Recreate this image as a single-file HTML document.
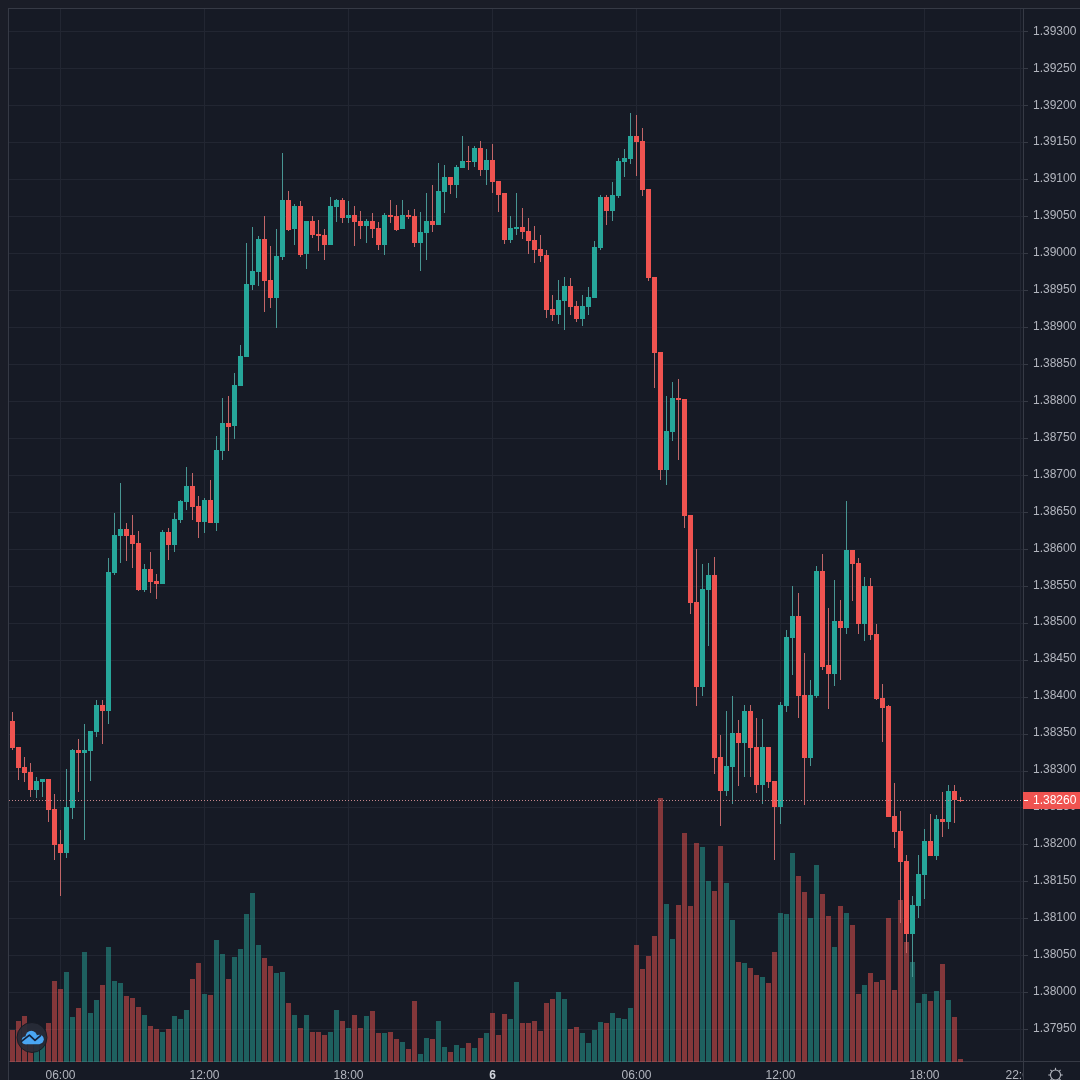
<!DOCTYPE html>
<html><head><meta charset="utf-8"><style>
html,body{margin:0;padding:0;background:#1a1d27;width:1080px;height:1080px;overflow:hidden}
svg{display:block;will-change:transform}
</style></head><body>
<svg width="1080" height="1080" viewBox="0 0 1080 1080" shape-rendering="crispEdges"><defs><clipPath id="pane"><rect x="9" y="9" width="1014" height="1053"/></clipPath><clipPath id="tclip"><rect x="0" y="0" width="1023" height="1080"/></clipPath></defs><rect x="0" y="0" width="1080" height="1080" fill="#1a1d27"/><rect x="8" y="8" width="1072" height="1072" fill="#161a25"/><g clip-path="url(#pane)"><rect x="8" y="31" width="1015" height="1" fill="#222632"/><rect x="8" y="68" width="1015" height="1" fill="#222632"/><rect x="8" y="105" width="1015" height="1" fill="#222632"/><rect x="8" y="142" width="1015" height="1" fill="#222632"/><rect x="8" y="179" width="1015" height="1" fill="#222632"/><rect x="8" y="216" width="1015" height="1" fill="#222632"/><rect x="8" y="253" width="1015" height="1" fill="#222632"/><rect x="8" y="290" width="1015" height="1" fill="#222632"/><rect x="8" y="327" width="1015" height="1" fill="#222632"/><rect x="8" y="364" width="1015" height="1" fill="#222632"/><rect x="8" y="401" width="1015" height="1" fill="#222632"/><rect x="8" y="438" width="1015" height="1" fill="#222632"/><rect x="8" y="475" width="1015" height="1" fill="#222632"/><rect x="8" y="512" width="1015" height="1" fill="#222632"/><rect x="8" y="549" width="1015" height="1" fill="#222632"/><rect x="8" y="586" width="1015" height="1" fill="#222632"/><rect x="8" y="623" width="1015" height="1" fill="#222632"/><rect x="8" y="660" width="1015" height="1" fill="#222632"/><rect x="8" y="697" width="1015" height="1" fill="#222632"/><rect x="8" y="734" width="1015" height="1" fill="#222632"/><rect x="8" y="771" width="1015" height="1" fill="#222632"/><rect x="8" y="807" width="1015" height="1" fill="#222632"/><rect x="8" y="844" width="1015" height="1" fill="#222632"/><rect x="8" y="881" width="1015" height="1" fill="#222632"/><rect x="8" y="918" width="1015" height="1" fill="#222632"/><rect x="8" y="955" width="1015" height="1" fill="#222632"/><rect x="8" y="992" width="1015" height="1" fill="#222632"/><rect x="8" y="1029" width="1015" height="1" fill="#222632"/><rect x="60" y="8" width="1" height="1053" fill="#222632"/><rect x="204" y="8" width="1" height="1053" fill="#222632"/><rect x="348" y="8" width="1" height="1053" fill="#222632"/><rect x="492" y="8" width="1" height="1053" fill="#222632"/><rect x="636" y="8" width="1" height="1053" fill="#222632"/><rect x="780" y="8" width="1" height="1053" fill="#222632"/><rect x="924" y="8" width="1" height="1053" fill="#222632"/><rect x="1020" y="8" width="1" height="1053" fill="#222632"/></g><rect x="8" y="8" width="1072" height="1" fill="#363a45"/><rect x="8" y="8" width="1" height="1072" fill="#363a45"/><rect x="1023" y="8" width="1" height="1072" fill="#363a45"/><rect x="8" y="1061" width="1072" height="1" fill="#363a45"/><g clip-path="url(#pane)"><rect x="10.0" y="1029.7" width="5" height="32.3" fill="rgba(239,83,80,0.5)"/><rect x="16.0" y="1020.6" width="5" height="41.4" fill="rgba(239,83,80,0.5)"/><rect x="22.0" y="1016.0" width="5" height="46.0" fill="rgba(239,83,80,0.5)"/><rect x="28.0" y="1040.0" width="5" height="22.0" fill="rgba(239,83,80,0.5)"/><rect x="34.0" y="1045.0" width="5" height="17.0" fill="rgba(38,166,154,0.5)"/><rect x="40.0" y="1045.0" width="5" height="17.0" fill="rgba(38,166,154,0.5)"/><rect x="46.0" y="1022.8" width="5" height="39.2" fill="rgba(239,83,80,0.5)"/><rect x="52.0" y="980.6" width="5" height="81.4" fill="rgba(239,83,80,0.5)"/><rect x="58.0" y="988.7" width="5" height="73.3" fill="rgba(239,83,80,0.5)"/><rect x="64.0" y="972.0" width="5" height="90.0" fill="rgba(38,166,154,0.5)"/><rect x="70.0" y="1016.9" width="5" height="45.1" fill="rgba(38,166,154,0.5)"/><rect x="76.0" y="1007.8" width="5" height="54.2" fill="rgba(239,83,80,0.5)"/><rect x="82.0" y="951.9" width="5" height="110.1" fill="rgba(38,166,154,0.5)"/><rect x="88.0" y="1012.9" width="5" height="49.1" fill="rgba(38,166,154,0.5)"/><rect x="94.0" y="999.8" width="5" height="62.2" fill="rgba(38,166,154,0.5)"/><rect x="100.0" y="984.5" width="5" height="77.5" fill="rgba(239,83,80,0.5)"/><rect x="106.0" y="947.0" width="5" height="115.0" fill="rgba(38,166,154,0.5)"/><rect x="112.0" y="980.9" width="5" height="81.1" fill="rgba(38,166,154,0.5)"/><rect x="118.0" y="982.8" width="5" height="79.2" fill="rgba(38,166,154,0.5)"/><rect x="124.0" y="995.9" width="5" height="66.1" fill="rgba(239,83,80,0.5)"/><rect x="130.0" y="997.6" width="5" height="64.4" fill="rgba(239,83,80,0.5)"/><rect x="136.0" y="1007.0" width="5" height="55.0" fill="rgba(239,83,80,0.5)"/><rect x="142.0" y="1015.0" width="5" height="47.0" fill="rgba(38,166,154,0.5)"/><rect x="148.0" y="1026.0" width="5" height="36.0" fill="rgba(239,83,80,0.5)"/><rect x="154.0" y="1028.8" width="5" height="33.2" fill="rgba(239,83,80,0.5)"/><rect x="160.0" y="1031.7" width="5" height="30.3" fill="rgba(38,166,154,0.5)"/><rect x="166.0" y="1028.6" width="5" height="33.4" fill="rgba(239,83,80,0.5)"/><rect x="172.0" y="1016.0" width="5" height="46.0" fill="rgba(38,166,154,0.5)"/><rect x="178.0" y="1018.9" width="5" height="43.1" fill="rgba(38,166,154,0.5)"/><rect x="184.0" y="1009.9" width="5" height="52.1" fill="rgba(38,166,154,0.5)"/><rect x="190.0" y="978.9" width="5" height="83.1" fill="rgba(239,83,80,0.5)"/><rect x="196.0" y="962.7" width="5" height="99.3" fill="rgba(239,83,80,0.5)"/><rect x="202.0" y="994.2" width="5" height="67.8" fill="rgba(38,166,154,0.5)"/><rect x="208.0" y="994.7" width="5" height="67.3" fill="rgba(239,83,80,0.5)"/><rect x="214.0" y="939.7" width="5" height="122.3" fill="rgba(38,166,154,0.5)"/><rect x="220.0" y="953.8" width="5" height="108.2" fill="rgba(38,166,154,0.5)"/><rect x="226.0" y="978.9" width="5" height="83.1" fill="rgba(239,83,80,0.5)"/><rect x="232.0" y="956.7" width="5" height="105.3" fill="rgba(38,166,154,0.5)"/><rect x="238.0" y="949.0" width="5" height="113.0" fill="rgba(38,166,154,0.5)"/><rect x="244.0" y="913.7" width="5" height="148.3" fill="rgba(38,166,154,0.5)"/><rect x="250.0" y="892.8" width="5" height="169.2" fill="rgba(38,166,154,0.5)"/><rect x="256.0" y="944.8" width="5" height="117.2" fill="rgba(38,166,154,0.5)"/><rect x="262.0" y="958.4" width="5" height="103.6" fill="rgba(239,83,80,0.5)"/><rect x="268.0" y="966.1" width="5" height="95.9" fill="rgba(239,83,80,0.5)"/><rect x="274.0" y="972.6" width="5" height="89.4" fill="rgba(38,166,154,0.5)"/><rect x="280.0" y="972.0" width="5" height="90.0" fill="rgba(38,166,154,0.5)"/><rect x="286.0" y="1002.7" width="5" height="59.3" fill="rgba(239,83,80,0.5)"/><rect x="292.0" y="1015.2" width="5" height="46.8" fill="rgba(38,166,154,0.5)"/><rect x="298.0" y="1027.9" width="5" height="34.1" fill="rgba(239,83,80,0.5)"/><rect x="304.0" y="1015.2" width="5" height="46.8" fill="rgba(38,166,154,0.5)"/><rect x="310.0" y="1031.7" width="5" height="30.3" fill="rgba(239,83,80,0.5)"/><rect x="316.0" y="1031.7" width="5" height="30.3" fill="rgba(239,83,80,0.5)"/><rect x="322.0" y="1034.8" width="5" height="27.2" fill="rgba(239,83,80,0.5)"/><rect x="328.0" y="1031.7" width="5" height="30.3" fill="rgba(38,166,154,0.5)"/><rect x="334.0" y="1009.9" width="5" height="52.1" fill="rgba(38,166,154,0.5)"/><rect x="340.0" y="1020.6" width="5" height="41.4" fill="rgba(239,83,80,0.5)"/><rect x="346.0" y="1027.9" width="5" height="34.1" fill="rgba(38,166,154,0.5)"/><rect x="352.0" y="1015.2" width="5" height="46.8" fill="rgba(239,83,80,0.5)"/><rect x="358.0" y="1027.9" width="5" height="34.1" fill="rgba(239,83,80,0.5)"/><rect x="364.0" y="1016.0" width="5" height="46.0" fill="rgba(38,166,154,0.5)"/><rect x="370.0" y="1010.9" width="5" height="51.1" fill="rgba(239,83,80,0.5)"/><rect x="376.0" y="1032.9" width="5" height="29.1" fill="rgba(239,83,80,0.5)"/><rect x="382.0" y="1032.9" width="5" height="29.1" fill="rgba(38,166,154,0.5)"/><rect x="388.0" y="1031.7" width="5" height="30.3" fill="rgba(239,83,80,0.5)"/><rect x="394.0" y="1038.9" width="5" height="23.1" fill="rgba(239,83,80,0.5)"/><rect x="400.0" y="1041.9" width="5" height="20.1" fill="rgba(38,166,154,0.5)"/><rect x="406.0" y="1048.7" width="5" height="13.3" fill="rgba(239,83,80,0.5)"/><rect x="412.0" y="1000.7" width="5" height="61.3" fill="rgba(239,83,80,0.5)"/><rect x="418.0" y="1053.9" width="5" height="8.1" fill="rgba(38,166,154,0.5)"/><rect x="424.0" y="1037.7" width="5" height="24.3" fill="rgba(38,166,154,0.5)"/><rect x="430.0" y="1038.9" width="5" height="23.1" fill="rgba(239,83,80,0.5)"/><rect x="436.0" y="1020.6" width="5" height="41.4" fill="rgba(38,166,154,0.5)"/><rect x="442.0" y="1047.0" width="5" height="15.0" fill="rgba(38,166,154,0.5)"/><rect x="448.0" y="1051.8" width="5" height="10.2" fill="rgba(239,83,80,0.5)"/><rect x="454.0" y="1045.0" width="5" height="17.0" fill="rgba(38,166,154,0.5)"/><rect x="460.0" y="1047.9" width="5" height="14.1" fill="rgba(38,166,154,0.5)"/><rect x="466.0" y="1043.1" width="5" height="18.9" fill="rgba(239,83,80,0.5)"/><rect x="472.0" y="1047.9" width="5" height="14.1" fill="rgba(38,166,154,0.5)"/><rect x="478.0" y="1037.7" width="5" height="24.3" fill="rgba(239,83,80,0.5)"/><rect x="484.0" y="1032.9" width="5" height="29.1" fill="rgba(38,166,154,0.5)"/><rect x="490.0" y="1012.6" width="5" height="49.4" fill="rgba(239,83,80,0.5)"/><rect x="496.0" y="1035.1" width="5" height="26.9" fill="rgba(239,83,80,0.5)"/><rect x="502.0" y="1014.1" width="5" height="47.9" fill="rgba(239,83,80,0.5)"/><rect x="508.0" y="1018.9" width="5" height="43.1" fill="rgba(38,166,154,0.5)"/><rect x="514.0" y="981.9" width="5" height="80.1" fill="rgba(38,166,154,0.5)"/><rect x="520.0" y="1023.2" width="5" height="38.8" fill="rgba(239,83,80,0.5)"/><rect x="526.0" y="1023.2" width="5" height="38.8" fill="rgba(239,83,80,0.5)"/><rect x="532.0" y="1021.0" width="5" height="41.0" fill="rgba(239,83,80,0.5)"/><rect x="538.0" y="1030.8" width="5" height="31.2" fill="rgba(239,83,80,0.5)"/><rect x="544.0" y="1002.7" width="5" height="59.3" fill="rgba(239,83,80,0.5)"/><rect x="550.0" y="999.0" width="5" height="63.0" fill="rgba(239,83,80,0.5)"/><rect x="556.0" y="992.2" width="5" height="69.8" fill="rgba(38,166,154,0.5)"/><rect x="562.0" y="999.0" width="5" height="63.0" fill="rgba(38,166,154,0.5)"/><rect x="568.0" y="1028.8" width="5" height="33.2" fill="rgba(239,83,80,0.5)"/><rect x="574.0" y="1026.6" width="5" height="35.4" fill="rgba(239,83,80,0.5)"/><rect x="580.0" y="1033.4" width="5" height="28.6" fill="rgba(38,166,154,0.5)"/><rect x="586.0" y="1042.8" width="5" height="19.2" fill="rgba(38,166,154,0.5)"/><rect x="592.0" y="1029.5" width="5" height="32.5" fill="rgba(38,166,154,0.5)"/><rect x="598.0" y="1021.8" width="5" height="40.2" fill="rgba(38,166,154,0.5)"/><rect x="604.0" y="1022.8" width="5" height="39.2" fill="rgba(239,83,80,0.5)"/><rect x="610.0" y="1012.7" width="5" height="49.3" fill="rgba(38,166,154,0.5)"/><rect x="616.0" y="1017.8" width="5" height="44.2" fill="rgba(38,166,154,0.5)"/><rect x="622.0" y="1018.8" width="5" height="43.2" fill="rgba(38,166,154,0.5)"/><rect x="628.0" y="1007.7" width="5" height="54.3" fill="rgba(38,166,154,0.5)"/><rect x="634.0" y="944.7" width="5" height="117.3" fill="rgba(239,83,80,0.5)"/><rect x="640.0" y="968.8" width="5" height="93.2" fill="rgba(239,83,80,0.5)"/><rect x="646.0" y="955.6" width="5" height="106.4" fill="rgba(239,83,80,0.5)"/><rect x="652.0" y="935.9" width="5" height="126.1" fill="rgba(239,83,80,0.5)"/><rect x="658.0" y="798.1" width="5" height="263.9" fill="rgba(239,83,80,0.5)"/><rect x="664.0" y="904.2" width="5" height="157.8" fill="rgba(38,166,154,0.5)"/><rect x="670.0" y="939.2" width="5" height="122.8" fill="rgba(38,166,154,0.5)"/><rect x="676.0" y="904.7" width="5" height="157.3" fill="rgba(239,83,80,0.5)"/><rect x="682.0" y="832.6" width="5" height="229.4" fill="rgba(239,83,80,0.5)"/><rect x="688.0" y="905.9" width="5" height="156.1" fill="rgba(239,83,80,0.5)"/><rect x="694.0" y="842.8" width="5" height="219.2" fill="rgba(239,83,80,0.5)"/><rect x="700.0" y="847.1" width="5" height="214.9" fill="rgba(38,166,154,0.5)"/><rect x="706.0" y="880.8" width="5" height="181.2" fill="rgba(38,166,154,0.5)"/><rect x="712.0" y="891.0" width="5" height="171.0" fill="rgba(239,83,80,0.5)"/><rect x="718.0" y="845.8" width="5" height="216.2" fill="rgba(239,83,80,0.5)"/><rect x="724.0" y="883.4" width="5" height="178.6" fill="rgba(38,166,154,0.5)"/><rect x="730.0" y="919.8" width="5" height="142.2" fill="rgba(38,166,154,0.5)"/><rect x="736.0" y="962.3" width="5" height="99.7" fill="rgba(239,83,80,0.5)"/><rect x="742.0" y="962.9" width="5" height="99.1" fill="rgba(38,166,154,0.5)"/><rect x="748.0" y="967.9" width="5" height="94.1" fill="rgba(239,83,80,0.5)"/><rect x="754.0" y="975.1" width="5" height="86.9" fill="rgba(239,83,80,0.5)"/><rect x="760.0" y="976.8" width="5" height="85.2" fill="rgba(38,166,154,0.5)"/><rect x="766.0" y="982.6" width="5" height="79.4" fill="rgba(239,83,80,0.5)"/><rect x="772.0" y="951.9" width="5" height="110.1" fill="rgba(239,83,80,0.5)"/><rect x="778.0" y="912.5" width="5" height="149.5" fill="rgba(38,166,154,0.5)"/><rect x="784.0" y="913.6" width="5" height="148.4" fill="rgba(38,166,154,0.5)"/><rect x="790.0" y="852.8" width="5" height="209.2" fill="rgba(38,166,154,0.5)"/><rect x="796.0" y="875.9" width="5" height="186.1" fill="rgba(239,83,80,0.5)"/><rect x="802.0" y="891.8" width="5" height="170.2" fill="rgba(239,83,80,0.5)"/><rect x="808.0" y="918.3" width="5" height="143.7" fill="rgba(38,166,154,0.5)"/><rect x="814.0" y="865.3" width="5" height="196.7" fill="rgba(38,166,154,0.5)"/><rect x="820.0" y="893.5" width="5" height="168.5" fill="rgba(239,83,80,0.5)"/><rect x="826.0" y="915.6" width="5" height="146.4" fill="rgba(239,83,80,0.5)"/><rect x="832.0" y="946.7" width="5" height="115.3" fill="rgba(38,166,154,0.5)"/><rect x="838.0" y="906.3" width="5" height="155.7" fill="rgba(239,83,80,0.5)"/><rect x="844.0" y="912.5" width="5" height="149.5" fill="rgba(38,166,154,0.5)"/><rect x="850.0" y="924.8" width="5" height="137.2" fill="rgba(239,83,80,0.5)"/><rect x="856.0" y="993.9" width="5" height="68.1" fill="rgba(239,83,80,0.5)"/><rect x="862.0" y="985.2" width="5" height="76.8" fill="rgba(38,166,154,0.5)"/><rect x="868.0" y="972.9" width="5" height="89.1" fill="rgba(239,83,80,0.5)"/><rect x="874.0" y="981.9" width="5" height="80.1" fill="rgba(239,83,80,0.5)"/><rect x="880.0" y="980.0" width="5" height="82.0" fill="rgba(239,83,80,0.5)"/><rect x="886.0" y="918.0" width="5" height="144.0" fill="rgba(239,83,80,0.5)"/><rect x="892.0" y="989.9" width="5" height="72.1" fill="rgba(239,83,80,0.5)"/><rect x="898.0" y="899.9" width="5" height="162.1" fill="rgba(239,83,80,0.5)"/><rect x="904.0" y="941.9" width="5" height="120.1" fill="rgba(239,83,80,0.5)"/><rect x="910.0" y="961.8" width="5" height="100.2" fill="rgba(38,166,154,0.5)"/><rect x="916.0" y="1003.1" width="5" height="58.9" fill="rgba(38,166,154,0.5)"/><rect x="922.0" y="993.9" width="5" height="68.1" fill="rgba(38,166,154,0.5)"/><rect x="928.0" y="1000.7" width="5" height="61.3" fill="rgba(239,83,80,0.5)"/><rect x="934.0" y="991.1" width="5" height="70.9" fill="rgba(38,166,154,0.5)"/><rect x="940.0" y="963.5" width="5" height="98.5" fill="rgba(239,83,80,0.5)"/><rect x="946.0" y="999.8" width="5" height="62.2" fill="rgba(38,166,154,0.5)"/><rect x="952.0" y="1016.7" width="5" height="45.3" fill="rgba(239,83,80,0.5)"/><rect x="958.0" y="1059.0" width="5" height="3.0" fill="rgba(239,83,80,0.5)"/></g><g clip-path="url(#pane)"><rect x="12.0" y="712.0" width="1" height="38.0" fill="#c26668"/><rect x="10.0" y="721.0" width="5" height="27.0" fill="#ef5350"/><rect x="18.0" y="747.0" width="1" height="32.6" fill="#c26668"/><rect x="16.0" y="747.0" width="5" height="21.0" fill="#ef5350"/><rect x="24.0" y="756.5" width="1" height="25.9" fill="#c26668"/><rect x="22.0" y="766.7" width="5" height="6.3" fill="#ef5350"/><rect x="30.0" y="763.0" width="1" height="34.0" fill="#c26668"/><rect x="28.0" y="772.0" width="5" height="18.0" fill="#ef5350"/><rect x="36.0" y="776.5" width="1" height="21.5" fill="#489693"/><rect x="34.0" y="780.5" width="5" height="9.5" fill="#26a69a"/><rect x="42.0" y="778.7" width="1" height="18.3" fill="#489693"/><rect x="40.0" y="778.7" width="5" height="3.3" fill="#26a69a"/><rect x="48.0" y="778.7" width="1" height="43.3" fill="#c26668"/><rect x="46.0" y="778.7" width="5" height="31.3" fill="#ef5350"/><rect x="54.0" y="794.4" width="1" height="65.6" fill="#c26668"/><rect x="52.0" y="809.0" width="5" height="36.0" fill="#ef5350"/><rect x="60.0" y="829.6" width="1" height="66.4" fill="#c26668"/><rect x="58.0" y="843.5" width="5" height="9.8" fill="#ef5350"/><rect x="66.0" y="769.4" width="1" height="88.6" fill="#489693"/><rect x="64.0" y="807.0" width="5" height="45.8" fill="#26a69a"/><rect x="72.0" y="748.5" width="1" height="70.9" fill="#489693"/><rect x="70.0" y="749.6" width="5" height="58.2" fill="#26a69a"/><rect x="78.0" y="738.9" width="1" height="52.8" fill="#c26668"/><rect x="76.0" y="749.6" width="5" height="3.4" fill="#ef5350"/><rect x="84.0" y="724.0" width="1" height="115.8" fill="#489693"/><rect x="82.0" y="749.6" width="5" height="3.4" fill="#26a69a"/><rect x="90.0" y="731.0" width="1" height="49.5" fill="#489693"/><rect x="88.0" y="731.0" width="5" height="20.0" fill="#26a69a"/><rect x="96.0" y="700.0" width="1" height="37.0" fill="#489693"/><rect x="94.0" y="704.6" width="5" height="27.2" fill="#26a69a"/><rect x="102.0" y="700.0" width="1" height="43.5" fill="#c26668"/><rect x="100.0" y="705.0" width="5" height="5.7" fill="#ef5350"/><rect x="108.0" y="558.0" width="1" height="166.0" fill="#489693"/><rect x="106.0" y="572.0" width="5" height="138.7" fill="#26a69a"/><rect x="114.0" y="512.5" width="1" height="62.5" fill="#489693"/><rect x="112.0" y="535.0" width="5" height="38.3" fill="#26a69a"/><rect x="120.0" y="483.3" width="1" height="80.0" fill="#489693"/><rect x="118.0" y="528.8" width="5" height="7.0" fill="#26a69a"/><rect x="126.0" y="522.5" width="1" height="38.3" fill="#c26668"/><rect x="124.0" y="528.8" width="5" height="7.0" fill="#ef5350"/><rect x="132.0" y="515.0" width="1" height="52.5" fill="#c26668"/><rect x="130.0" y="535.0" width="5" height="8.8" fill="#ef5350"/><rect x="138.0" y="531.2" width="1" height="60.1" fill="#c26668"/><rect x="136.0" y="542.8" width="5" height="47.2" fill="#ef5350"/><rect x="144.0" y="563.8" width="1" height="28.2" fill="#489693"/><rect x="142.0" y="568.8" width="5" height="21.2" fill="#26a69a"/><rect x="150.0" y="552.0" width="1" height="40.8" fill="#c26668"/><rect x="148.0" y="568.8" width="5" height="13.4" fill="#ef5350"/><rect x="156.0" y="573.7" width="1" height="25.1" fill="#c26668"/><rect x="154.0" y="580.5" width="5" height="3.3" fill="#ef5350"/><rect x="162.0" y="530.0" width="1" height="53.8" fill="#489693"/><rect x="160.0" y="531.7" width="5" height="52.1" fill="#26a69a"/><rect x="168.0" y="527.8" width="1" height="32.2" fill="#c26668"/><rect x="166.0" y="531.7" width="5" height="13.3" fill="#ef5350"/><rect x="174.0" y="512.8" width="1" height="38.9" fill="#489693"/><rect x="172.0" y="518.7" width="5" height="26.3" fill="#26a69a"/><rect x="180.0" y="499.7" width="1" height="23.1" fill="#489693"/><rect x="178.0" y="500.5" width="5" height="19.5" fill="#26a69a"/><rect x="186.0" y="466.7" width="1" height="43.3" fill="#489693"/><rect x="184.0" y="485.8" width="5" height="15.9" fill="#26a69a"/><rect x="192.0" y="472.5" width="1" height="47.5" fill="#c26668"/><rect x="190.0" y="485.8" width="5" height="21.4" fill="#ef5350"/><rect x="198.0" y="496.3" width="1" height="42.0" fill="#c26668"/><rect x="196.0" y="505.8" width="5" height="16.2" fill="#ef5350"/><rect x="204.0" y="497.5" width="1" height="35.3" fill="#489693"/><rect x="202.0" y="499.7" width="5" height="22.3" fill="#26a69a"/><rect x="210.0" y="480.0" width="1" height="42.8" fill="#c26668"/><rect x="208.0" y="499.7" width="5" height="23.1" fill="#ef5350"/><rect x="216.0" y="435.8" width="1" height="95.4" fill="#489693"/><rect x="214.0" y="450.0" width="5" height="72.8" fill="#26a69a"/><rect x="222.0" y="398.3" width="1" height="61.7" fill="#489693"/><rect x="220.0" y="422.5" width="5" height="28.5" fill="#26a69a"/><rect x="228.0" y="395.8" width="1" height="55.2" fill="#c26668"/><rect x="226.0" y="422.5" width="5" height="4.2" fill="#ef5350"/><rect x="234.0" y="373.3" width="1" height="65.9" fill="#489693"/><rect x="232.0" y="384.7" width="5" height="41.6" fill="#26a69a"/><rect x="240.0" y="345.0" width="1" height="40.8" fill="#489693"/><rect x="238.0" y="355.8" width="5" height="30.0" fill="#26a69a"/><rect x="246.0" y="243.3" width="1" height="113.7" fill="#489693"/><rect x="244.0" y="284.2" width="5" height="72.8" fill="#26a69a"/><rect x="252.0" y="226.7" width="1" height="63.3" fill="#489693"/><rect x="250.0" y="270.8" width="5" height="14.2" fill="#26a69a"/><rect x="258.0" y="236.3" width="1" height="49.5" fill="#489693"/><rect x="256.0" y="238.8" width="5" height="32.9" fill="#26a69a"/><rect x="264.0" y="216.2" width="1" height="95.5" fill="#c26668"/><rect x="262.0" y="238.8" width="5" height="42.0" fill="#ef5350"/><rect x="270.0" y="246.3" width="1" height="61.2" fill="#c26668"/><rect x="268.0" y="280.0" width="5" height="17.8" fill="#ef5350"/><rect x="276.0" y="229.2" width="1" height="98.8" fill="#489693"/><rect x="274.0" y="255.8" width="5" height="42.0" fill="#26a69a"/><rect x="282.0" y="152.5" width="1" height="107.2" fill="#489693"/><rect x="280.0" y="200.0" width="5" height="57.0" fill="#26a69a"/><rect x="288.0" y="190.8" width="1" height="40.0" fill="#c26668"/><rect x="286.0" y="200.0" width="5" height="29.5" fill="#ef5350"/><rect x="294.0" y="203.8" width="1" height="41.5" fill="#489693"/><rect x="292.0" y="205.5" width="5" height="23.3" fill="#26a69a"/><rect x="300.0" y="200.8" width="1" height="55.9" fill="#c26668"/><rect x="298.0" y="205.5" width="5" height="49.2" fill="#ef5350"/><rect x="306.0" y="220.8" width="1" height="47.9" fill="#489693"/><rect x="304.0" y="220.8" width="5" height="33.0" fill="#26a69a"/><rect x="312.0" y="215.8" width="1" height="22.5" fill="#c26668"/><rect x="310.0" y="220.8" width="5" height="14.2" fill="#ef5350"/><rect x="318.0" y="219.7" width="1" height="31.1" fill="#c26668"/><rect x="316.0" y="234.2" width="5" height="2.0" fill="#ef5350"/><rect x="324.0" y="229.2" width="1" height="30.3" fill="#c26668"/><rect x="322.0" y="235.0" width="5" height="10.0" fill="#ef5350"/><rect x="330.0" y="196.7" width="1" height="48.3" fill="#489693"/><rect x="328.0" y="205.8" width="5" height="39.2" fill="#26a69a"/><rect x="336.0" y="198.7" width="1" height="23.0" fill="#489693"/><rect x="334.0" y="199.5" width="5" height="7.2" fill="#26a69a"/><rect x="342.0" y="197.5" width="1" height="25.5" fill="#c26668"/><rect x="340.0" y="199.5" width="5" height="18.0" fill="#ef5350"/><rect x="348.0" y="201.3" width="1" height="21.2" fill="#489693"/><rect x="346.0" y="215.0" width="5" height="2.5" fill="#26a69a"/><rect x="354.0" y="205.8" width="1" height="40.4" fill="#c26668"/><rect x="352.0" y="215.0" width="5" height="6.7" fill="#ef5350"/><rect x="360.0" y="210.8" width="1" height="28.4" fill="#c26668"/><rect x="358.0" y="220.8" width="5" height="5.0" fill="#ef5350"/><rect x="366.0" y="219.2" width="1" height="24.1" fill="#489693"/><rect x="364.0" y="220.8" width="5" height="5.0" fill="#26a69a"/><rect x="372.0" y="213.3" width="1" height="24.2" fill="#c26668"/><rect x="370.0" y="220.8" width="5" height="8.4" fill="#ef5350"/><rect x="378.0" y="221.7" width="1" height="28.6" fill="#c26668"/><rect x="376.0" y="227.8" width="5" height="17.5" fill="#ef5350"/><rect x="384.0" y="212.8" width="1" height="42.2" fill="#489693"/><rect x="382.0" y="214.5" width="5" height="30.8" fill="#26a69a"/><rect x="390.0" y="200.0" width="1" height="23.0" fill="#c26668"/><rect x="388.0" y="215.0" width="5" height="2.0" fill="#ef5350"/><rect x="396.0" y="205.0" width="1" height="25.8" fill="#c26668"/><rect x="394.0" y="215.8" width="5" height="13.9" fill="#ef5350"/><rect x="402.0" y="200.0" width="1" height="29.2" fill="#489693"/><rect x="400.0" y="215.0" width="5" height="14.2" fill="#26a69a"/><rect x="408.0" y="210.0" width="1" height="9.0" fill="#c26668"/><rect x="406.0" y="215.0" width="5" height="2.0" fill="#ef5350"/><rect x="414.0" y="208.8" width="1" height="38.2" fill="#c26668"/><rect x="412.0" y="216.2" width="5" height="27.1" fill="#ef5350"/><rect x="420.0" y="211.7" width="1" height="59.1" fill="#489693"/><rect x="418.0" y="232.0" width="5" height="11.3" fill="#26a69a"/><rect x="426.0" y="192.5" width="1" height="67.2" fill="#489693"/><rect x="424.0" y="220.8" width="5" height="12.2" fill="#26a69a"/><rect x="432.0" y="185.0" width="1" height="46.7" fill="#c26668"/><rect x="430.0" y="220.8" width="5" height="4.2" fill="#ef5350"/><rect x="438.0" y="162.5" width="1" height="62.5" fill="#489693"/><rect x="436.0" y="190.8" width="5" height="34.2" fill="#26a69a"/><rect x="444.0" y="165.3" width="1" height="48.0" fill="#489693"/><rect x="442.0" y="176.7" width="5" height="15.3" fill="#26a69a"/><rect x="450.0" y="176.7" width="1" height="17.5" fill="#c26668"/><rect x="448.0" y="176.7" width="5" height="8.3" fill="#ef5350"/><rect x="456.0" y="164.7" width="1" height="33.6" fill="#489693"/><rect x="454.0" y="166.7" width="5" height="18.3" fill="#26a69a"/><rect x="462.0" y="136.3" width="1" height="31.7" fill="#489693"/><rect x="460.0" y="160.8" width="5" height="7.2" fill="#26a69a"/><rect x="468.0" y="146.3" width="1" height="23.2" fill="#c26668"/><rect x="466.0" y="160.5" width="5" height="1.2" fill="#ef5350"/><rect x="474.0" y="145.8" width="1" height="21.4" fill="#489693"/><rect x="472.0" y="147.5" width="5" height="14.2" fill="#26a69a"/><rect x="480.0" y="140.8" width="1" height="35.0" fill="#c26668"/><rect x="478.0" y="147.5" width="5" height="22.5" fill="#ef5350"/><rect x="486.0" y="149.2" width="1" height="36.1" fill="#489693"/><rect x="484.0" y="159.7" width="5" height="10.3" fill="#26a69a"/><rect x="492.0" y="144.2" width="1" height="49.1" fill="#c26668"/><rect x="490.0" y="159.7" width="5" height="22.3" fill="#ef5350"/><rect x="498.0" y="180.8" width="1" height="30.9" fill="#c26668"/><rect x="496.0" y="180.8" width="5" height="14.2" fill="#ef5350"/><rect x="504.0" y="192.5" width="1" height="51.7" fill="#c26668"/><rect x="502.0" y="193.3" width="5" height="46.4" fill="#ef5350"/><rect x="510.0" y="215.8" width="1" height="26.7" fill="#489693"/><rect x="508.0" y="228.0" width="5" height="11.7" fill="#26a69a"/><rect x="516.0" y="192.5" width="1" height="42.5" fill="#489693"/><rect x="514.0" y="227.2" width="5" height="2.0" fill="#26a69a"/><rect x="522.0" y="208.3" width="1" height="30.9" fill="#c26668"/><rect x="520.0" y="227.2" width="5" height="4.8" fill="#ef5350"/><rect x="528.0" y="218.0" width="1" height="35.8" fill="#c26668"/><rect x="526.0" y="230.8" width="5" height="10.4" fill="#ef5350"/><rect x="534.0" y="225.8" width="1" height="36.7" fill="#c26668"/><rect x="532.0" y="240.0" width="5" height="10.0" fill="#ef5350"/><rect x="540.0" y="234.7" width="1" height="27.0" fill="#c26668"/><rect x="538.0" y="248.8" width="5" height="7.0" fill="#ef5350"/><rect x="546.0" y="250.0" width="1" height="68.3" fill="#c26668"/><rect x="544.0" y="255.0" width="5" height="55.0" fill="#ef5350"/><rect x="552.0" y="295.0" width="1" height="25.8" fill="#c26668"/><rect x="550.0" y="308.8" width="5" height="5.9" fill="#ef5350"/><rect x="558.0" y="280.0" width="1" height="44.2" fill="#489693"/><rect x="556.0" y="299.7" width="5" height="15.0" fill="#26a69a"/><rect x="564.0" y="276.7" width="1" height="53.3" fill="#489693"/><rect x="562.0" y="285.8" width="5" height="15.0" fill="#26a69a"/><rect x="570.0" y="278.0" width="1" height="36.7" fill="#c26668"/><rect x="568.0" y="285.8" width="5" height="21.2" fill="#ef5350"/><rect x="576.0" y="300.8" width="1" height="20.9" fill="#c26668"/><rect x="574.0" y="306.2" width="5" height="13.0" fill="#ef5350"/><rect x="582.0" y="295.0" width="1" height="30.8" fill="#489693"/><rect x="580.0" y="306.2" width="5" height="13.0" fill="#26a69a"/><rect x="588.0" y="286.7" width="1" height="28.3" fill="#489693"/><rect x="586.0" y="297.0" width="5" height="10.0" fill="#26a69a"/><rect x="594.0" y="240.8" width="1" height="57.2" fill="#489693"/><rect x="592.0" y="247.0" width="5" height="51.0" fill="#26a69a"/><rect x="600.0" y="195.0" width="1" height="55.0" fill="#489693"/><rect x="598.0" y="196.7" width="5" height="51.6" fill="#26a69a"/><rect x="606.0" y="195.0" width="1" height="29.7" fill="#c26668"/><rect x="604.0" y="196.7" width="5" height="14.1" fill="#ef5350"/><rect x="612.0" y="181.7" width="1" height="39.6" fill="#489693"/><rect x="610.0" y="195.0" width="5" height="15.8" fill="#26a69a"/><rect x="618.0" y="157.6" width="1" height="40.7" fill="#489693"/><rect x="616.0" y="160.6" width="5" height="35.5" fill="#26a69a"/><rect x="624.0" y="149.4" width="1" height="27.3" fill="#489693"/><rect x="622.0" y="157.8" width="5" height="4.4" fill="#26a69a"/><rect x="630.0" y="113.3" width="1" height="50.6" fill="#489693"/><rect x="628.0" y="135.8" width="5" height="23.1" fill="#26a69a"/><rect x="636.0" y="115.3" width="1" height="60.8" fill="#c26668"/><rect x="634.0" y="135.8" width="5" height="6.4" fill="#ef5350"/><rect x="642.0" y="128.3" width="1" height="67.8" fill="#c26668"/><rect x="640.0" y="140.9" width="5" height="49.1" fill="#ef5350"/><rect x="648.0" y="188.9" width="1" height="91.9" fill="#c26668"/><rect x="646.0" y="188.9" width="5" height="89.4" fill="#ef5350"/><rect x="654.0" y="277.2" width="1" height="111.1" fill="#c26668"/><rect x="652.0" y="277.2" width="5" height="75.3" fill="#ef5350"/><rect x="660.0" y="352.0" width="1" height="127.7" fill="#c26668"/><rect x="658.0" y="352.0" width="5" height="117.7" fill="#ef5350"/><rect x="666.0" y="395.8" width="1" height="89.2" fill="#489693"/><rect x="664.0" y="431.2" width="5" height="38.5" fill="#26a69a"/><rect x="672.0" y="382.0" width="1" height="58.8" fill="#489693"/><rect x="670.0" y="397.8" width="5" height="33.9" fill="#26a69a"/><rect x="678.0" y="378.8" width="1" height="81.2" fill="#c26668"/><rect x="676.0" y="397.8" width="5" height="1.9" fill="#ef5350"/><rect x="684.0" y="398.7" width="1" height="128.8" fill="#c26668"/><rect x="682.0" y="398.7" width="5" height="117.1" fill="#ef5350"/><rect x="690.0" y="515.0" width="1" height="99.2" fill="#c26668"/><rect x="688.0" y="515.0" width="5" height="87.5" fill="#ef5350"/><rect x="696.0" y="549.2" width="1" height="156.6" fill="#c26668"/><rect x="694.0" y="602.0" width="5" height="84.7" fill="#ef5350"/><rect x="702.0" y="563.8" width="1" height="132.0" fill="#489693"/><rect x="700.0" y="589.2" width="5" height="97.5" fill="#26a69a"/><rect x="708.0" y="563.0" width="1" height="83.3" fill="#489693"/><rect x="706.0" y="575.0" width="5" height="15.0" fill="#26a69a"/><rect x="714.0" y="556.7" width="1" height="217.5" fill="#c26668"/><rect x="712.0" y="575.0" width="5" height="182.5" fill="#ef5350"/><rect x="720.0" y="735.0" width="1" height="90.8" fill="#c26668"/><rect x="718.0" y="757.0" width="5" height="33.8" fill="#ef5350"/><rect x="726.0" y="711.3" width="1" height="84.5" fill="#489693"/><rect x="724.0" y="765.8" width="5" height="25.0" fill="#26a69a"/><rect x="732.0" y="695.8" width="1" height="107.9" fill="#489693"/><rect x="730.0" y="732.8" width="5" height="33.9" fill="#26a69a"/><rect x="738.0" y="720.0" width="1" height="65.8" fill="#c26668"/><rect x="736.0" y="732.8" width="5" height="10.0" fill="#ef5350"/><rect x="744.0" y="705.0" width="1" height="71.7" fill="#489693"/><rect x="742.0" y="710.8" width="5" height="32.0" fill="#26a69a"/><rect x="750.0" y="704.7" width="1" height="72.0" fill="#c26668"/><rect x="748.0" y="710.8" width="5" height="37.0" fill="#ef5350"/><rect x="756.0" y="717.5" width="1" height="75.8" fill="#c26668"/><rect x="754.0" y="747.0" width="5" height="37.7" fill="#ef5350"/><rect x="762.0" y="718.7" width="1" height="85.0" fill="#489693"/><rect x="760.0" y="747.0" width="5" height="37.7" fill="#26a69a"/><rect x="768.0" y="747.0" width="1" height="41.3" fill="#c26668"/><rect x="766.0" y="747.0" width="5" height="35.2" fill="#ef5350"/><rect x="774.0" y="781.2" width="1" height="78.8" fill="#c26668"/><rect x="772.0" y="781.2" width="5" height="25.8" fill="#ef5350"/><rect x="780.0" y="701.7" width="1" height="122.5" fill="#489693"/><rect x="778.0" y="704.7" width="5" height="102.3" fill="#26a69a"/><rect x="786.0" y="629.7" width="1" height="82.0" fill="#489693"/><rect x="784.0" y="636.7" width="5" height="69.1" fill="#26a69a"/><rect x="792.0" y="586.3" width="1" height="88.7" fill="#489693"/><rect x="790.0" y="615.8" width="5" height="21.7" fill="#26a69a"/><rect x="798.0" y="592.5" width="1" height="125.0" fill="#c26668"/><rect x="796.0" y="615.8" width="5" height="80.0" fill="#ef5350"/><rect x="804.0" y="652.5" width="1" height="152.5" fill="#c26668"/><rect x="802.0" y="695.0" width="5" height="63.0" fill="#ef5350"/><rect x="810.0" y="680.0" width="1" height="85.8" fill="#489693"/><rect x="808.0" y="695.0" width="5" height="63.0" fill="#26a69a"/><rect x="816.0" y="565.8" width="1" height="132.5" fill="#489693"/><rect x="814.0" y="570.8" width="5" height="125.0" fill="#26a69a"/><rect x="822.0" y="554.2" width="1" height="115.8" fill="#c26668"/><rect x="820.0" y="570.8" width="5" height="95.9" fill="#ef5350"/><rect x="828.0" y="608.3" width="1" height="100.9" fill="#c26668"/><rect x="826.0" y="664.7" width="5" height="9.5" fill="#ef5350"/><rect x="834.0" y="579.5" width="1" height="106.3" fill="#489693"/><rect x="832.0" y="620.8" width="5" height="53.4" fill="#26a69a"/><rect x="840.0" y="600.0" width="1" height="79.7" fill="#c26668"/><rect x="838.0" y="620.8" width="5" height="7.2" fill="#ef5350"/><rect x="846.0" y="500.8" width="1" height="133.4" fill="#489693"/><rect x="844.0" y="549.7" width="5" height="78.3" fill="#26a69a"/><rect x="852.0" y="549.7" width="1" height="51.1" fill="#c26668"/><rect x="850.0" y="549.7" width="5" height="14.1" fill="#ef5350"/><rect x="858.0" y="557.5" width="1" height="76.7" fill="#c26668"/><rect x="856.0" y="562.5" width="5" height="61.3" fill="#ef5350"/><rect x="864.0" y="576.7" width="1" height="64.1" fill="#489693"/><rect x="862.0" y="585.8" width="5" height="38.0" fill="#26a69a"/><rect x="870.0" y="577.5" width="1" height="62.2" fill="#c26668"/><rect x="868.0" y="585.8" width="5" height="49.2" fill="#ef5350"/><rect x="876.0" y="624.2" width="1" height="75.8" fill="#c26668"/><rect x="874.0" y="633.7" width="5" height="65.5" fill="#ef5350"/><rect x="882.0" y="683.7" width="1" height="58.3" fill="#c26668"/><rect x="880.0" y="698.0" width="5" height="9.5" fill="#ef5350"/><rect x="888.0" y="704.7" width="1" height="112.3" fill="#c26668"/><rect x="886.0" y="706.3" width="5" height="110.7" fill="#ef5350"/><rect x="894.0" y="782.5" width="1" height="65.0" fill="#c26668"/><rect x="892.0" y="816.2" width="5" height="15.5" fill="#ef5350"/><rect x="900.0" y="810.8" width="1" height="112.2" fill="#c26668"/><rect x="898.0" y="830.8" width="5" height="30.9" fill="#ef5350"/><rect x="906.0" y="855.0" width="1" height="98.3" fill="#c26668"/><rect x="904.0" y="860.8" width="5" height="73.0" fill="#ef5350"/><rect x="912.0" y="895.8" width="1" height="80.9" fill="#489693"/><rect x="910.0" y="905.0" width="5" height="28.8" fill="#26a69a"/><rect x="918.0" y="855.0" width="1" height="62.5" fill="#489693"/><rect x="916.0" y="873.7" width="5" height="32.1" fill="#26a69a"/><rect x="924.0" y="829.2" width="1" height="70.0" fill="#489693"/><rect x="922.0" y="840.8" width="5" height="34.2" fill="#26a69a"/><rect x="930.0" y="813.7" width="1" height="42.1" fill="#c26668"/><rect x="928.0" y="840.8" width="5" height="15.0" fill="#ef5350"/><rect x="936.0" y="815.0" width="1" height="45.0" fill="#489693"/><rect x="934.0" y="818.7" width="5" height="37.1" fill="#26a69a"/><rect x="942.0" y="792.0" width="1" height="44.7" fill="#c26668"/><rect x="940.0" y="818.7" width="5" height="3.3" fill="#ef5350"/><rect x="948.0" y="785.0" width="1" height="44.2" fill="#489693"/><rect x="946.0" y="790.8" width="5" height="31.2" fill="#26a69a"/><rect x="954.0" y="784.7" width="1" height="37.8" fill="#c26668"/><rect x="952.0" y="790.8" width="5" height="9.5" fill="#ef5350"/><rect x="960.0" y="796.7" width="1" height="5.0" fill="#c26668"/><rect x="958.0" y="799.5" width="5" height="1.5" fill="#ef5350"/></g><line x1="9" y1="800.5" x2="1023" y2="800.5" stroke="#c8868a" stroke-width="1" stroke-dasharray="1 2"/><g font-family="Liberation Sans, sans-serif" font-size="12"><rect x="1024" y="31" width="4" height="1" fill="#363a45"/><text x="1033" y="34.70" fill="#b2b5be">1.39300</text><rect x="1024" y="68" width="4" height="1" fill="#363a45"/><text x="1033" y="71.62" fill="#b2b5be">1.39250</text><rect x="1024" y="105" width="4" height="1" fill="#363a45"/><text x="1033" y="108.54" fill="#b2b5be">1.39200</text><rect x="1024" y="142" width="4" height="1" fill="#363a45"/><text x="1033" y="145.46" fill="#b2b5be">1.39150</text><rect x="1024" y="179" width="4" height="1" fill="#363a45"/><text x="1033" y="182.38" fill="#b2b5be">1.39100</text><rect x="1024" y="216" width="4" height="1" fill="#363a45"/><text x="1033" y="219.30" fill="#b2b5be">1.39050</text><rect x="1024" y="253" width="4" height="1" fill="#363a45"/><text x="1033" y="256.22" fill="#b2b5be">1.39000</text><rect x="1024" y="290" width="4" height="1" fill="#363a45"/><text x="1033" y="293.14" fill="#b2b5be">1.38950</text><rect x="1024" y="327" width="4" height="1" fill="#363a45"/><text x="1033" y="330.06" fill="#b2b5be">1.38900</text><rect x="1024" y="364" width="4" height="1" fill="#363a45"/><text x="1033" y="366.98" fill="#b2b5be">1.38850</text><rect x="1024" y="401" width="4" height="1" fill="#363a45"/><text x="1033" y="403.90" fill="#b2b5be">1.38800</text><rect x="1024" y="438" width="4" height="1" fill="#363a45"/><text x="1033" y="440.82" fill="#b2b5be">1.38750</text><rect x="1024" y="475" width="4" height="1" fill="#363a45"/><text x="1033" y="477.74" fill="#b2b5be">1.38700</text><rect x="1024" y="512" width="4" height="1" fill="#363a45"/><text x="1033" y="514.66" fill="#b2b5be">1.38650</text><rect x="1024" y="549" width="4" height="1" fill="#363a45"/><text x="1033" y="551.58" fill="#b2b5be">1.38600</text><rect x="1024" y="586" width="4" height="1" fill="#363a45"/><text x="1033" y="588.50" fill="#b2b5be">1.38550</text><rect x="1024" y="623" width="4" height="1" fill="#363a45"/><text x="1033" y="625.42" fill="#b2b5be">1.38500</text><rect x="1024" y="660" width="4" height="1" fill="#363a45"/><text x="1033" y="662.34" fill="#b2b5be">1.38450</text><rect x="1024" y="697" width="4" height="1" fill="#363a45"/><text x="1033" y="699.26" fill="#b2b5be">1.38400</text><rect x="1024" y="734" width="4" height="1" fill="#363a45"/><text x="1033" y="736.18" fill="#b2b5be">1.38350</text><rect x="1024" y="771" width="4" height="1" fill="#363a45"/><text x="1033" y="773.10" fill="#b2b5be">1.38300</text><rect x="1024" y="807" width="4" height="1" fill="#363a45"/><text x="1033" y="810.02" fill="#b2b5be">1.38250</text><rect x="1024" y="844" width="4" height="1" fill="#363a45"/><text x="1033" y="846.94" fill="#b2b5be">1.38200</text><rect x="1024" y="881" width="4" height="1" fill="#363a45"/><text x="1033" y="883.86" fill="#b2b5be">1.38150</text><rect x="1024" y="918" width="4" height="1" fill="#363a45"/><text x="1033" y="920.78" fill="#b2b5be">1.38100</text><rect x="1024" y="955" width="4" height="1" fill="#363a45"/><text x="1033" y="957.70" fill="#b2b5be">1.38050</text><rect x="1024" y="992" width="4" height="1" fill="#363a45"/><text x="1033" y="994.62" fill="#b2b5be">1.38000</text><rect x="1024" y="1029" width="4" height="1" fill="#363a45"/><text x="1033" y="1031.54" fill="#b2b5be">1.37950</text></g><rect x="1023" y="792" width="57" height="17" fill="#ef5350"/><rect x="1024" y="800" width="4" height="1" fill="#ffffff"/><text x="1033" y="803.8" fill="#ffffff" font-family="Liberation Sans, sans-serif" font-size="12">1.38260</text><g font-family="Liberation Sans, sans-serif" font-size="12"><text x="60.5" y="1079" text-anchor="middle" fill="#b2b5be">06:00</text><text x="204.5" y="1079" text-anchor="middle" fill="#b2b5be">12:00</text><text x="348.5" y="1079" text-anchor="middle" fill="#b2b5be">18:00</text><text x="492.5" y="1079" text-anchor="middle" fill="#d1d4dc" font-weight="bold">6</text><text x="636.5" y="1079" text-anchor="middle" fill="#b2b5be">06:00</text><text x="780.5" y="1079" text-anchor="middle" fill="#b2b5be">12:00</text><text x="924.5" y="1079" text-anchor="middle" fill="#b2b5be">18:00</text><text x="1020.5" y="1079" text-anchor="middle" fill="#b2b5be" clip-path="url(#tclip)">22:00</text></g><g shape-rendering="auto"><circle cx="1055.5" cy="1075" r="5" fill="none" stroke="#b2b5be" stroke-width="1.1"/><line x1="1060.50" y1="1075.00" x2="1062.70" y2="1075.00" stroke="#b2b5be" stroke-width="1.1"/><line x1="1059.04" y1="1078.54" x2="1060.59" y2="1080.09" stroke="#b2b5be" stroke-width="1.1"/><line x1="1055.50" y1="1080.00" x2="1055.50" y2="1082.20" stroke="#b2b5be" stroke-width="1.1"/><line x1="1051.96" y1="1078.54" x2="1050.41" y2="1080.09" stroke="#b2b5be" stroke-width="1.1"/><line x1="1050.50" y1="1075.00" x2="1048.30" y2="1075.00" stroke="#b2b5be" stroke-width="1.1"/><line x1="1051.96" y1="1071.46" x2="1050.41" y2="1069.91" stroke="#b2b5be" stroke-width="1.1"/><line x1="1055.50" y1="1070.00" x2="1055.50" y2="1067.80" stroke="#b2b5be" stroke-width="1.1"/><line x1="1059.04" y1="1071.46" x2="1060.59" y2="1069.91" stroke="#b2b5be" stroke-width="1.1"/></g><g shape-rendering="auto"><circle cx="32" cy="1037.5" r="15" fill="rgba(40,43,55,0.92)" stroke="rgba(22,25,34,0.9)" stroke-width="1"/><circle cx="25.6" cy="1040.3" r="3.9" fill="#4aa6f3"/><circle cx="31.3" cy="1036.6" r="5.8" fill="#4aa6f3"/><circle cx="39.3" cy="1039.3" r="4.5" fill="#4aa6f3"/><rect x="24.5" y="1038" width="16" height="6.2" rx="1.5" fill="#4aa6f3"/><path d="M21.8 1041.2 L29.4 1035.2 L35 1040.4 L40.5 1035.6" fill="none" stroke="#14213a" stroke-width="1.7" stroke-linejoin="round" stroke-linecap="round"/></g></svg>
</body></html>
